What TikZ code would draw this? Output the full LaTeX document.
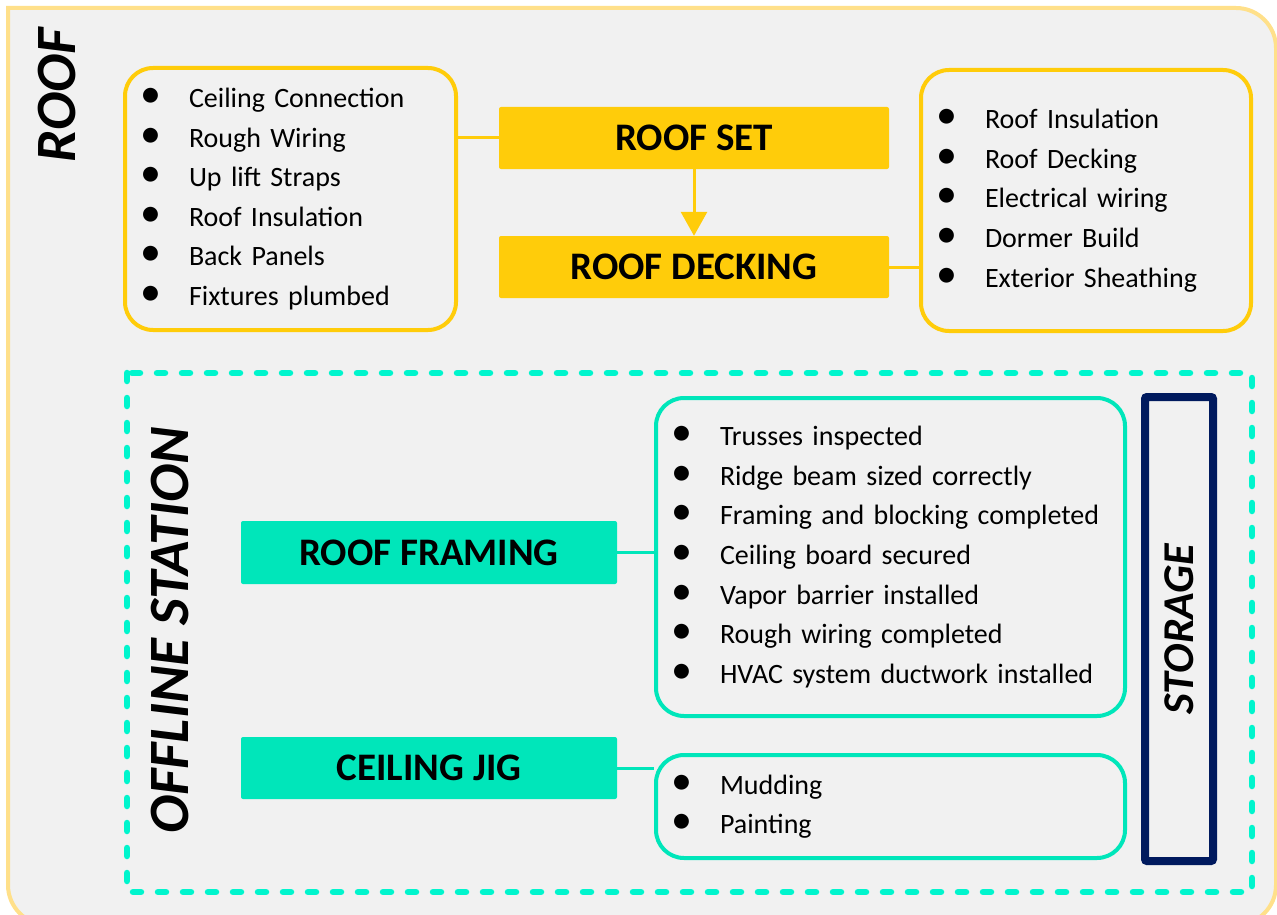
\documentclass[tikz,border=0pt]{standalone}
\usepackage{fontspec}
\setmainfont{Carlito}
\usetikzlibrary{arrows.meta}
\definecolor{bggray}{RGB}{241,241,241}
\definecolor{paleyel}{RGB}{255,224,138}
\definecolor{roofyel}{RGB}{255,204,10}
\definecolor{offteal}{RGB}{0,230,186}
\definecolor{dashteal}{RGB}{0,245,205}
\definecolor{stornavy}{RGB}{0,26,94}
\newcommand{\blt}{\makebox[49pt][l]{\raisebox{0pt}{\scalebox{1.5}{\textbullet}}}}
\begin{document}
\begin{tikzpicture}[x=1pt, y=-1pt, font=\fontsize{28}{39.6}\selectfont,
  frame/.style={draw=paleyel, fill=bggray, line width=4pt},
  lst/.style={draw, rounded corners=28pt, line width=4pt, align=left,
              inner xsep=15pt, inner ysep=0pt},
  stn/.style={rounded corners=2pt, minimum width=390pt, minimum height=62pt,
              font=\bfseries\fontsize{39}{39}\selectfont},
  lbl/.style={rotate=90, font=\bfseries\itshape\fontsize{57}{57}\selectfont},
  link/.style={line width=3pt}
]
  \useasboundingbox (0,0) rectangle (1277,915);
  \clip (0,0) rectangle (1277,915);
  % outer roof area
  \path[frame] (8,500) -- (8,8) -- (1200,8) [rounded corners=40pt] -- (1276,8)
    -- (1276,925) -- (8,925) -- (8,500) -- cycle;
  \node[lbl] (roof) at (57,95) {ROOF};

  % roof stations
  \node[stn, fill=roofyel] (rs) at (694,138) {ROOF SET};
  \node[stn, fill=roofyel] (rd) at (694,267) {ROOF DECKING};
  \node[lst, draw=roofyel, text width=301pt, minimum height=262pt] (lbox) at (290.5,199)
    {\blt Ceiling Connection\\ \blt Rough Wiring\\ \blt Up lift Straps\\
     \blt Roof Insulation\\ \blt Back Panels\\ \blt Fixtures plumbed};
  \node[lst, draw=roofyel, text width=300pt, minimum height=261pt] (rbox) at (1086,200.5)
    {\blt Roof Insulation\\ \blt Roof Decking\\ \blt Electrical wiring\\
     \blt Dormer Build\\ \blt Exterior Sheathing};
  \draw[link, roofyel] (rs.west) -- (rs.west -| lbox.east);
  \draw[link, roofyel] (rd.east) -- (rd.east -| rbox.west);
  \draw[link, roofyel, -{Triangle[width=26pt,length=24pt]}] (rs.south) -- (rd.north);

  % offline station
  \draw[dashteal, line width=6.5pt, dash pattern=on 8pt off 17pt, line cap=round]
    (127,373) rectangle (1252,892);
  \node[lbl] (offl) at (170,630) {OFFLINE STATION};
  \node[stn, fill=offteal, minimum width=376pt, minimum height=63pt] (rf) at (429,552.5) {ROOF FRAMING};
  \node[stn, fill=offteal, minimum width=376pt] (cj) at (429,768) {CEILING JIG};
  \node[lst, draw=offteal, text width=439pt, minimum height=318pt] (fbox) at (890.5,557)
    {\blt Trusses inspected\\ \blt Ridge beam sized correctly\\
     \blt Framing and blocking completed\\ \blt Ceiling board secured\\
     \blt Vapor barrier installed\\ \blt Rough wiring completed\\
     \blt HVAC system ductwork installed};
  \node[lst, draw=offteal, text width=439pt, minimum height=103pt] (jbox) at (890.5,806.5)
    {\blt Mudding\\ \blt Painting};
  \foreach \a/\b in {rf/fbox, cj/jbox}
    \draw[link, offteal] (\a.east) -- (\a.east -| \b.west);
  \node[draw=stornavy, fill=bggray, line width=8pt, rounded corners=2pt, rotate=90,
        minimum width=464pt, minimum height=68pt,
        font=\bfseries\itshape\fontsize{44}{44}\selectfont] (stor) at (1179,629) {STORAGE};
\end{tikzpicture}
\end{document}
